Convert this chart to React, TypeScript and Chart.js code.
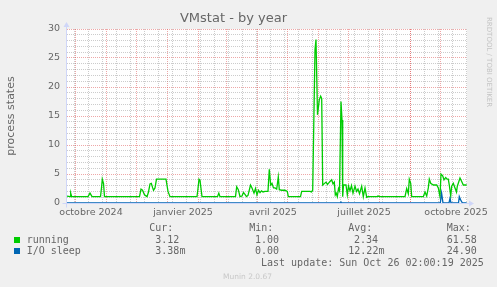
import React, { useEffect, useRef } from 'react';
import { Chart, registerables } from 'chart.js';

Chart.register(...registerables);

// ---- data (x = days since the start of the 400-day window) ----
const runningDays = [
  0, 3, 3.7, 4.7, 21, 23, 25, 33.5, 34.5, 35.3, 36.5, 37.5,
  72.5, 74, 75.5, 77.5, 80, 81.5, 83, 84.3, 85.7, 86.5, 88, 89.5, 99, 101, 103,
  130, 131, 132, 133, 134, 135, 150.5, 151.8, 153,
  168.5, 169.7, 171.3, 173, 175, 176.5, 178, 179.5, 181, 183.5, 185, 187, 188.5, 190, 191.5, 193, 194.5, 196, 198, 201,
  202.3, 203.7, 205, 206.5, 208, 209.7, 211.3, 212.3, 214.7, 218, 220.3, 221.3,
  233.5, 234.7, 243, 244.5, 245.7, 248, 249, 250.5, 252.3, 253.7, 254.7, 255.7,
  257, 259, 260.5, 262, 263, 264.7, 266, 267.3, 268.3, 269.2, 270.3, 271.5, 272.5, 274, 275, 275.7,
  276.5, 279, 280.3, 281.5, 283, 284.5, 286, 288, 289.5, 291, 292.5, 294.7, 296.3, 298, 299.7,
  301, 310, 311, 313, 338, 339.7, 341.3, 342.3, 343.7, 344.7,
  356.3, 358, 359.7, 361.3, 362.3, 363.7, 366.3, 369.7, 371.3, 373,
  374, 375.7, 377, 378.7, 380, 381.3, 382.3, 383.7, 384.7, 386.3, 388, 389.5, 390.3, 391.3, 393, 394.7, 396.3, 399.7,
];
const runningValues = [
  1.2, 1.1, 1.7, 1.1, 1.1, 1.7, 1.1, 1.1, 2.6, 4.1, 3.4, 1.1,
  1.1, 2.4, 2.2, 1.4, 1.1, 1.9, 3.3, 3.4, 2.6, 2.2, 2.6, 4.1, 4.1, 2.0, 1.1,
  1.1, 2.5, 4.1, 3.9, 2.5, 1.1, 1.1, 1.7, 1.1,
  1.1, 2.8, 2.3, 1.1, 1.2, 1.8, 1.5, 1.1, 1.3, 3.1, 2.6, 1.7, 2.5, 1.4, 2.2, 1.8, 2.1, 1.9, 2.0, 2.0,
  5.8, 3.1, 3.4, 2.6, 2.6, 2.4, 4.5, 2.3, 2.2, 2.2, 2.0, 1.1,
  1.1, 2.0, 2.0, 1.9, 2.2, 26.4, 28.2, 15.2, 17.8, 18.4, 18.0, 3.1,
  3.3, 3.6, 3.2, 3.5, 3.7, 4.0, 3.3, 3.6, 1.4, 1.7, 1.1, 2.5, 2.1, 17.5, 14.3, 1.1,
  3.1, 3.1, 1.4, 2.9, 2.1, 3.0, 1.7, 2.9, 2.0, 2.4, 1.6, 2.9, 1.1, 2.6, 1.0,
  1.1, 1.1, 1.2, 1.1, 1.1, 2.5, 1.6, 4.1, 3.4, 1.1,
  1.1, 1.9, 1.2, 2.6, 4.1, 3.4, 3.1, 3.1, 2.6, 1.1,
  5.0, 4.7, 4.0, 4.4, 4.1, 4.1, 3.1, 1.2, 2.9, 3.4, 2.6, 1.9, 2.9, 3.4, 4.3, 3.7, 3.1, 3.1,
];
const ioSleepDays = [0, 273.5, 274, 274.5, 373.3, 374.6, 376, 382, 383, 384, 391.5, 392.3, 394, 395.5, 399.7];
const ioSleepValues = [0, 0, 0.15, 0, 0, 1.7, 0, 0, 0.8, 0, 0, 1.1, 0.4, 0, 0];

const yTicks = [0, 1, 2, 3, 4, 5, 6, 7, 8, 9, 10, 11, 12, 13, 14, 15, 16, 17, 18, 19, 20, 21, 22, 23, 24, 25, 26, 27, 28, 29, 30];
const xLabelTexts = ['octobre 2024', 'janvier 2025', 'avril 2025', 'juillet 2025', 'octobre 2025'];
const xLabelMonths: [number, number][] = [[2024, 9], [2025, 0], [2025, 3], [2025, 6], [2025, 9]];

const legendNames = ['running', 'I/O sleep'];
const legendColors = ['#00CC00', '#0066B3'];
const legendCur = ['3.12', '3.38m'];
const legendMin = ['1.00', '0.00'];
const legendAvg = ['2.34', '12.22m'];
const legendMax = ['61.58', '24.90'];
const lastUpdate = 'Last update: Sun Oct 26 02:00:19 2025';

// ---- time helpers ----
const START = Date.UTC(2024, 8, 22, 12);
const DAY = 86400000;
const dayOf = (y: number, m: number, d: number) => (Date.UTC(y, m, d) - START) / DAY;

type XT = { value: number; kind: 'major' | 'minor' | 'label'; label?: string };
function buildXTicks(): XT[] {
  const t: XT[] = [];
  const firstMonday = dayOf(2024, 8, 30);
  for (let v = firstMonday; v <= 400; v += 14) t.push({ value: v, kind: 'minor' });
  for (let i = 0; i < 14; i++) {
    const v = dayOf(2024, 9 + i, 1);
    if (v <= 400) t.push({ value: v, kind: 'major' });
  }
  xLabelMonths.forEach(([y, m], i) => t.push({ value: dayOf(y, m, 1) + 15.5, kind: 'label', label: xLabelTexts[i] }));
  t.sort((a, b) => a.value - b.value);
  return t;
}

const FONT = "'DejaVu Sans', sans-serif";
const MONO = "'DejaVu Sans Mono', monospace";
const TEXT = '#666666';
const MINOR = 'rgba(143,143,143,0.45)';
const MAJOR = 'rgba(222,79,79,0.5)';
const AXIS = '#CFD6F8';

const muninPlugin = {
  id: 'munin',
  beforeDraw(chart: any) {
    const { ctx, chartArea: a } = chart;
    ctx.save();
    ctx.fillStyle = '#ffffff';
    ctx.fillRect(a.left, a.top, a.right - a.left, a.bottom - a.top);
    ctx.restore();
  },
  afterDatasetsDraw(chart: any) {
    const { ctx, chartArea: a } = chart;
    const x0 = a.left - 0.5;
    const y0 = a.bottom + 0.5;
    ctx.save();
    ctx.strokeStyle = AXIS;
    ctx.fillStyle = AXIS;
    ctx.lineWidth = 1;
    ctx.beginPath();
    ctx.moveTo(x0 - 4, y0);
    ctx.lineTo(a.right + 4, y0);
    ctx.moveTo(x0, y0 + 4);
    ctx.lineTo(x0, a.top - 4);
    ctx.stroke();
    ctx.beginPath();
    ctx.moveTo(a.right + 2, y0 - 3);
    ctx.lineTo(a.right + 2, y0 + 3);
    ctx.lineTo(a.right + 7, y0);
    ctx.closePath();
    ctx.fill();
    ctx.beginPath();
    ctx.moveTo(x0 - 3, a.top - 2);
    ctx.lineTo(x0 + 3, a.top - 2);
    ctx.lineTo(x0, a.top - 7);
    ctx.closePath();
    ctx.fill();
    ctx.restore();
  },
};

function Txt(props: { x: number; cy: number; text: string; size?: number; color?: string; font?: string; center?: boolean }) {
  const size = props.size ?? 10;
  const lh = Math.round(size * 1.4);
  return (
    <div
      style={{
        position: 'absolute',
        left: props.center ? props.x - 100 : props.x,
        width: props.center ? 200 : undefined,
        textAlign: props.center ? 'center' : 'left',
        top: props.cy - lh / 2,
        lineHeight: lh + 'px',
        height: lh,
        fontSize: size,
        fontFamily: props.font ?? MONO,
        color: props.color ?? TEXT,
        whiteSpace: 'pre',
      }}
    >
      {props.text}
    </div>
  );
}

export default function App() {
  const ref = useRef<HTMLCanvasElement>(null);

  useEffect(() => {
    const canvas = ref.current;
    if (!canvas) return;
    const xTicks = buildXTicks();
    const kindMap = new Map<number, XT>();
    xTicks.forEach((t) => kindMap.set(t.value, t));

    const chart = new Chart(canvas, {
      type: 'line',
      data: {
        datasets: [
          {
            label: legendNames[0],
            data: runningDays.map((d, i) => ({ x: d, y: runningValues[i] })),
            borderColor: legendColors[0],
            borderWidth: 1.3,
            pointRadius: 0,
            tension: 0,
            fill: false,
            order: 1,
          },
          {
            label: legendNames[1],
            data: ioSleepDays.map((d, i) => ({ x: d, y: ioSleepValues[i] })),
            borderColor: legendColors[1],
            borderWidth: 1.3,
            pointRadius: 0,
            tension: 0,
            fill: false,
            order: 0,
          },
        ],
      },
      options: {
        animation: false,
        responsive: false,
        devicePixelRatio: 1,
        layout: { padding: { left: 0, right: 30, top: 0, bottom: 0 } },
        plugins: {
          legend: { display: false },
          tooltip: { enabled: false },
          title: {
            display: true,
            text: 'VMstat - by year',
            color: TEXT,
            font: { family: FONT, size: 13, weight: 'normal' },
            padding: { top: 10.6, bottom: 2.8 },
          },
        },
        scales: {
          x: {
            type: 'linear',
            min: 0,
            max: 400,
            afterBuildTicks: (s: any) => {
              s.ticks = xTicks.map((t) => ({ value: t.value }));
            },
            afterFit: (s: any) => {
              s.height = 84;
            },
            ticks: {
              autoSkip: false,
              maxRotation: 0,
              minRotation: 0,
              padding: 4,
              color: TEXT,
              font: { family: FONT, size: 9.5 },
              callback: (v: any) => {
                const t = kindMap.get(v);
                return t && t.kind === 'label' ? t.label : '';
              },
            },
            grid: {
              drawTicks: false,
              color: (c: any) => {
                const t = c.tick ? kindMap.get(c.tick.value) : undefined;
                if (!t || t.kind === 'label') return 'rgba(0,0,0,0)';
                return t.kind === 'major' ? MAJOR : MINOR;
              },
            },
            border: { display: false, dash: [1, 1] },
          },
          y: {
            type: 'linear',
            min: 0,
            max: 30,
            afterBuildTicks: (s: any) => {
              s.ticks = yTicks.map((v) => ({ value: v }));
            },
            afterFit: (s: any) => {
              s.width = 67;
            },
            ticks: {
              autoSkip: false,
              padding: 7,
              color: TEXT,
              font: { family: FONT, size: 9.5 },
              callback: (v: any) => (v % 5 === 0 ? String(v) : ''),
            },
            grid: {
              drawTicks: false,
              color: (c: any) => {
                if (!c.tick) return 'rgba(0,0,0,0)';
                return c.tick.value % 5 === 0 ? MAJOR : MINOR;
              },
            },
            border: { display: false, dash: [1, 1] },
            title: {
              display: true,
              text: 'process states',
              color: TEXT,
              font: { family: FONT, size: 11 },
              padding: { top: 4.4, bottom: 0 },
            },
          },
        },
      },
      plugins: [muninPlugin],
    } as any);
    return () => chart.destroy();
  }, []);

  return (
    <div style={{ position: 'fixed', left: 0, top: 0, width: 497, height: 287, background: '#f0f0f0', overflow: 'hidden' }}>
      <canvas ref={ref} width={497} height={287} style={{ position: 'absolute', left: 0, top: 0, width: 497, height: 287 }} />
      <div
        style={{
          position: 'absolute',
          left: 484,
          top: 17,
          writingMode: 'vertical-rl',
          fontFamily: FONT,
          fontSize: 7,
          lineHeight: '9px',
          color: '#c4c4c4',
          whiteSpace: 'pre',
        }}
      >
        RRDTOOL / TOBI OETIKER
      </div>
      <Txt x={149.3} cy={228.3} text="Cur:" />
      <Txt x={249.3} cy={228.3} text="Min:" />
      <Txt x={348.3} cy={228.3} text="Avg:" />
      <Txt x={446.7} cy={228.3} text="Max:" />
      {legendNames.map((name, i) => {
        const cy = i === 0 ? 239.7 : 251.3;
        return (
          <React.Fragment key={name}>
            <div style={{ position: 'absolute', left: 14, top: cy - 3, width: 6, height: 6, background: legendColors[i] }} />
            <Txt x={26.7} cy={cy} text={name} />
            <Txt x={155.3} cy={cy} text={legendCur[i]} />
            <Txt x={255} cy={cy} text={legendMin[i]} />
            <Txt x={i === 0 ? 354 : 348.3} cy={cy} text={legendAvg[i]} />
            <Txt x={446.7} cy={cy} text={legendMax[i]} />
          </React.Fragment>
        );
      })}
      <Txt x={261} cy={263.3} text={lastUpdate} />
      <Txt x={247.5} cy={276} text="Munin 2.0.67" size={7.5} font={FONT} color="#c8c8c8" center />
    </div>
  );
}
